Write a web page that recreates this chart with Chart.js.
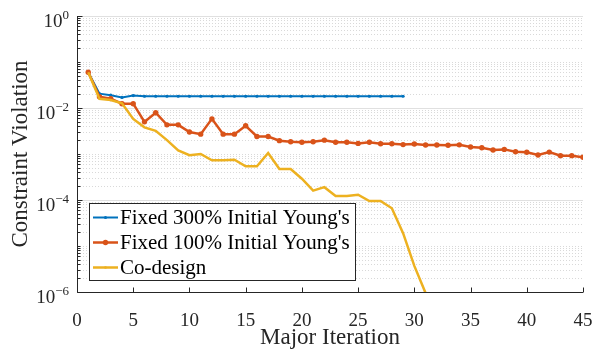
<!DOCTYPE html>
<html lang="en">
<head>
<meta charset="UTF-8">
<title>Constraint Violation vs Major Iteration</title>
<script src="https://cdn.jsdelivr.net/npm/chart.js"></script>
<style>
    html, body { margin: 0; padding: 0; background: #fff; }
    #wrap { width: 608px; height: 349px; position: relative; }
</style>
</head>
<body>
<div id="wrap"><canvas id="chart"></canvas></div>
<script>
// Series names, as in the legend
const seriesLabels = ["Fixed 300% Initial Young's", "Fixed 100% Initial Young's", "Co-design"];

// Constraint violation per major iteration (iteration 1, 2, 3, ...)
const fixed300 = [0.06, 0.0205, 0.019, 0.017, 0.0186, 0.018, 0.018, 0.018, 0.018, 0.018,
    0.018, 0.018, 0.018, 0.018, 0.018, 0.018, 0.018, 0.018, 0.018, 0.018,
    0.018, 0.018, 0.018, 0.018, 0.018, 0.018, 0.018, 0.018, 0.018];
const fixed100 = [0.06, 0.0176, 0.016, 0.0124, 0.0124, 0.005, 0.0079, 0.0043, 0.0043, 0.003,
    0.0027, 0.0058, 0.0027, 0.0027, 0.0041, 0.0024, 0.0024, 0.00195, 0.00185, 0.0018,
    0.00185, 0.002, 0.0018, 0.0018, 0.0017, 0.0018, 0.00167, 0.00167, 0.0016, 0.00165,
    0.00157, 0.00157, 0.00155, 0.00158, 0.00142, 0.00137, 0.00122, 0.00126, 0.00112, 0.00109,
    0.00095, 0.0011, 0.00092, 0.00092, 0.00085];
const coDesign = [0.06, 0.0158, 0.0149, 0.0126, 0.0058, 0.0038, 0.0032, 0.002, 0.0012, 0.00094,
    0.001, 0.00073, 0.00073, 0.00075, 0.00054, 0.00054, 0.00105, 0.00047, 0.00047, 0.00029,
    0.00016, 0.00019, 0.000122, 0.000122, 0.00013, 0.000095, 0.000095, 0.000066, 0.000019, 0.0000037,
    0.00000095];

// Axis ticks
const xTicks = [0, 5, 10, 15, 20, 25, 30, 35, 40, 45];
const yMajorExp = [0, -2, -4, -6];

const SERIF = "'Liberation Serif', 'Times New Roman', serif";
const INK = '#262626';
const colors = ['#0072BD', '#D95319', '#EDB120'];

const toPoints = vals => vals.map((v, i) => ({ x: i + 1, y: v }));

function hline(ctx, x0, x1, y) {
    ctx.beginPath(); ctx.moveTo(x0, y); ctx.lineTo(x1, y); ctx.stroke();
}
function vline(ctx, x, y0, y1) {
    ctx.beginPath(); ctx.moveTo(x, y0); ctx.lineTo(x, y1); ctx.stroke();
}

// MATLAB-like axes: grid, inward ticks, 10^n labels and legend box
const matlabAxes = {
    id: 'matlabAxes',
    beforeDatasetsDraw(chart) {
        const { ctx, chartArea: a, scales: { y } } = chart;
        ctx.save();
        ctx.lineWidth = 1;
        // minor grid (dotted)
        ctx.strokeStyle = '#d9d9d9';
        ctx.setLineDash([1, 2]);
        for (let e = -6; e < 0; e++) {
            for (let m = 1; m <= 9; m++) {
                if (m === 1 && yMajorExp.includes(e)) continue;
                const py = Math.round(y.getPixelForValue(m * Math.pow(10, e))) + 0.5;
                hline(ctx, a.left, a.right, py);
            }
        }
        // major grid
        ctx.setLineDash([]);
        ctx.strokeStyle = '#e0e0e0';
        yMajorExp.forEach(e => {
            const py = Math.round(y.getPixelForValue(Math.pow(10, e))) + 0.5;
            hline(ctx, a.left, a.right, py);
        });
        ctx.restore();
    },
    afterDatasetsDraw(chart) {
        const { ctx, chartArea: a, scales: { x, y } } = chart;
        ctx.save();
        ctx.strokeStyle = INK;
        ctx.fillStyle = INK;
        ctx.lineWidth = 1;
        const left = Math.round(a.left) + 0.5;
        const bottom = Math.round(a.bottom) + 0.5;
        vline(ctx, left, a.top, bottom);
        hline(ctx, left, a.right, bottom);

        // x ticks, pointing inward
        xTicks.forEach(v => {
            const px = Math.round(x.getPixelForValue(v)) + 0.5;
            vline(ctx, px, bottom, bottom - 5);
        });

        // y ticks, major and minor
        for (let e = -6; e <= 0; e++) {
            for (let m = 1; m <= 9; m++) {
                if (e === 0 && m > 1) break;
                const py = Math.round(y.getPixelForValue(m * Math.pow(10, e))) + 0.5;
                const len = (m === 1 && yMajorExp.includes(e)) ? 5 : 3;
                hline(ctx, left, left + len, py);
            }
        }

        // y tick labels as 10 with a raised exponent
        yMajorExp.forEach(e => {
            const py = y.getPixelForValue(Math.pow(10, e));
            const exp = e < 0 ? '\u2212' + (-e) : String(e);
            ctx.font = '13px ' + SERIF;
            const ew = ctx.measureText(exp).width;
            const rightEdge = a.left - 8;
            ctx.textBaseline = 'alphabetic';
            ctx.textAlign = 'left';
            ctx.fillText(exp, rightEdge - ew, py + 2.5);
            ctx.font = '19px ' + SERIF;
            ctx.textAlign = 'right';
            ctx.fillText('10', rightEdge - ew, py + 11);
        });

        // legend
        const lx0 = a.left + 12, ly1 = a.bottom - 11;
        const lx1 = lx0 + 267, ly0 = ly1 - 78;
        ctx.fillStyle = '#fff';
        ctx.fillRect(lx0, ly0, lx1 - lx0, ly1 - ly0);
        ctx.strokeStyle = INK;
        ctx.lineWidth = 1;
        ctx.strokeRect(lx0 + 0.5, ly0 + 0.5, lx1 - lx0 - 1, ly1 - ly0 - 1);
        ctx.font = '21px ' + SERIF;
        ctx.textAlign = 'left';
        ctx.textBaseline = 'middle';
        chart.data.datasets.forEach((ds, i) => {
            const ry = ly0 + 14.5 + i * 25;
            ctx.strokeStyle = ds.borderColor;
            ctx.lineWidth = ds.borderWidth;
            hline(ctx, lx0 + 4, lx0 + 29, ry);
            ctx.fillStyle = ds.borderColor;
            const r = Math.max(ds.pointRadius, 1.3);
            ctx.beginPath(); ctx.arc(lx0 + 16.5, ry, r, 0, Math.PI * 2); ctx.fill();
            ctx.fillStyle = '#000';
            ctx.fillText(ds.label, lx0 + 31, ry + 1);
        });
        ctx.restore();
    }
};

new Chart(document.getElementById('chart').getContext('2d'), {
    type: 'line',
    data: {
        datasets: [
            {
                label: seriesLabels[0], data: toPoints(fixed300),
                borderColor: colors[0], backgroundColor: colors[0],
                borderWidth: 2, pointRadius: 1.6, pointBorderWidth: 0, order: 2
            },
            {
                label: seriesLabels[1], data: toPoints(fixed100),
                borderColor: colors[1], backgroundColor: colors[1],
                borderWidth: 2.5, pointRadius: 2.7, pointBorderWidth: 0, order: 1
            },
            {
                label: seriesLabels[2], data: toPoints(coDesign),
                borderColor: colors[2], backgroundColor: colors[2],
                borderWidth: 2.5, pointRadius: 0, order: 0
            }
        ]
    },
    options: {
        responsive: true,
        maintainAspectRatio: false,
        animation: false,
        events: [],
        layout: { padding: { top: 16, right: 25, left: 0, bottom: 0 } },
        plugins: { legend: { display: false }, tooltip: { enabled: false } },
        elements: { line: { tension: 0 } },
        scales: {
            x: {
                type: 'linear', min: 0, max: 45,
                afterFit: s => { s.height = 57; },
                grid: { display: false },
                border: { display: false },
                ticks: {
                    stepSize: 5, autoSkip: false, maxRotation: 0, padding: 10,
                    color: INK, font: { family: SERIF, size: 19, lineHeight: 1.2 }
                },
                title: {
                    display: true, text: 'Major Iteration', color: INK,
                    font: { family: SERIF, size: 23, lineHeight: 1 },
                    padding: { top: 0, bottom: 0 }
                }
            },
            y: {
                type: 'logarithmic', min: 1e-6, max: 1,
                afterFit: s => { s.width = 77; },
                grid: { display: false },
                border: { display: false },
                ticks: { display: false },
                title: {
                    display: true, text: 'Constraint Violation', color: INK,
                    font: { family: SERIF, size: 23, lineHeight: 1 },
                    padding: { top: 9, bottom: 0 }
                }
            }
        }
    },
    plugins: [matlabAxes]
});
</script>
</body>
</html>
